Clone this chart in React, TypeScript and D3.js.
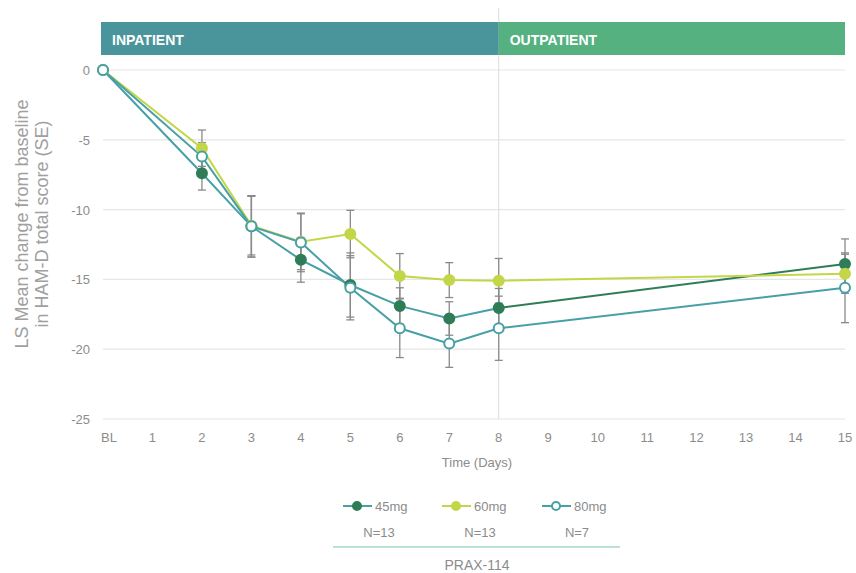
import React from "react";
import * as d3 from "d3";

const days = [0, 2, 3, 4, 5, 6, 7, 8, 15];
const xTickLabels = ["BL", "1", "2", "3", "4", "5", "6", "7", "8", "9", "10", "11", "12", "13", "14", "15"];
const yTicks = [0, -5, -10, -15, -20, -25];

const mean45 = [0, -7.4, -11.2, -13.6, -15.4, -16.9, -17.8, -17.05, -13.9];
const se45 = [0, 1.2, 2.2, 1.6, 2.3, 1.3, 1.2, 1.4, 1.8];
const mean60 = [0, -5.6, -11.15, -12.3, -11.75, -14.75, -15.05, -15.1, -14.6];
const se60 = [0, 1.3, 2.1, 2.0, 1.7, 1.6, 1.25, 1.6, 1.4];
const mean80 = [0, -6.2, -11.2, -12.35, -15.6, -18.5, -19.6, -18.5, -15.6];
const se80 = [0, 1.0, 2.2, 2.1, 2.3, 2.1, 1.7, 2.3, 2.5];

const seriesNames = ["45mg", "60mg", "80mg"];
const seriesN = ["N=13", "N=13", "N=7"];

const TEAL = "#47a0a6";
const DARKGREEN = "#2f7d58";
const LIME = "#c3d648";
const FONT = "'Liberation Sans', Arial, sans-serif";
const TXT = "#8c8c8c";

export default function App() {
  const x = d3.scaleLinear().domain([0, 15]).range([103, 845]);
  const y = d3.scaleLinear().domain([0, -25]).range([70, 419]);
  const line = d3.line<number>().x((_, i) => x(days[i])).y((v) => y(v));

  const series = [
    { name: seriesNames[0], mean: mean45, se: se45, stroke: TEAL, fill: DARKGREEN, mstroke: DARKGREEN },
    { name: seriesNames[1], mean: mean60, se: se60, stroke: LIME, fill: LIME, mstroke: LIME },
    { name: seriesNames[2], mean: mean80, se: se80, stroke: TEAL, fill: "#fff", mstroke: TEAL },
  ];

  const legendX = [357, 456, 556];
  const nX = [379, 480, 577];

  return (
    <svg width={856} height={573} style={{ display: "block", position: "absolute", left: 0, top: 0 }} fontFamily={FONT}>
      <rect width={856} height={573} fill="#fff" />
      {/* gridlines */}
      {yTicks.map((t) => (
        <line key={t} x1={103} x2={845} y1={y(t)} y2={y(t)} stroke="#e6e6e6" strokeWidth={1.2} />
      ))}
      {/* vertical day-8 line */}
      <line x1={x(8)} x2={x(8)} y1={8} y2={y(-25)} stroke="#dcdcdc" strokeWidth={1} />
      {/* banner */}
      <rect x={101} y={22} width={x(8) - 101} height={33} fill="#4a959b" />
      <rect x={x(8)} y={22} width={845 - x(8)} height={33} fill="#55b180" />
      <text x={112} y={45} fill="#fff" fontSize={14} fontWeight="bold">INPATIENT</text>
      <text x={x(8) + 11} y={45} fill="#fff" fontSize={14} fontWeight="bold">OUTPATIENT</text>
      {/* y ticks */}
      {yTicks.map((t) => (
        <text key={t} x={90} y={y(t) + 5} textAnchor="end" fontSize={13} fill={TXT}>{t}</text>
      ))}
      {/* y title */}
      <g transform={`translate(28,224) rotate(-90)`}>
        <text x={0} y={0} textAnchor="middle" fontSize={18} fill="#a0a0a0">LS Mean change from baseline</text>
        <text x={0} y={20} textAnchor="middle" fontSize={18} fill="#a0a0a0">in HAM-D total score (SE)</text>
      </g>
      {/* x ticks */}
      {xTickLabels.map((l, i) => (
        <text key={l} x={x(i) + (i === 0 ? 6 : 0)} y={442} textAnchor="middle" fontSize={13} fill={TXT}>{l}</text>
      ))}
      <text x={477} y={467} textAnchor="middle" fontSize={13} fill={TXT}>Time (Days)</text>
      {/* error bars */}
      {series.map((s) =>
        s.mean.map((m, i) =>
          i === 0 ? null : (
            <g key={s.name + i} stroke="#8a8a8a" strokeWidth={1.3}>
              <line x1={x(days[i])} x2={x(days[i])} y1={y(m + s.se[i])} y2={y(m - s.se[i])} />
              <line x1={x(days[i]) - 4} x2={x(days[i]) + 4} y1={y(m + s.se[i])} y2={y(m + s.se[i])} />
              <line x1={x(days[i]) - 4} x2={x(days[i]) + 4} y1={y(m - s.se[i])} y2={y(m - s.se[i])} />
            </g>
          )
        )
      )}
      {/* lines */}
      {series.map((s, k) => (
        <g key={s.name}>
          <path d={line(k === 0 ? s.mean.slice(0, 8) : s.mean) || ""} fill="none" stroke={s.stroke} strokeWidth={2} />
          {k === 0 && (
            <line x1={x(8)} y1={y(s.mean[7])} x2={x(15)} y2={y(s.mean[8])} stroke={DARKGREEN} strokeWidth={2} />
          )}
        </g>
      ))}
      {/* markers */}
      {series.map((s) =>
        s.mean.map((m, i) => (
          <circle key={s.name + "c" + i} cx={x(days[i])} cy={y(m)} r={5} fill={s.fill} stroke={s.mstroke} strokeWidth={2} />
        ))
      )}
      {/* legend */}
      {series.map((s, k) => (
        <g key={s.name + "leg"}>
          <line x1={legendX[k] - 14} x2={legendX[k] + 15} y1={506} y2={506} stroke={s.stroke} strokeWidth={2} />
          <circle cx={legendX[k]} cy={506} r={4} fill={s.fill} stroke={s.mstroke} strokeWidth={2} />
          <text x={legendX[k] + 18} y={511} fontSize={13} fill={TXT}>{s.name}</text>
          <text x={nX[k]} y={537} textAnchor="middle" fontSize={13} fill={TXT}>{seriesN[k]}</text>
        </g>
      ))}
      <line x1={333} x2={620} y1={547} y2={547} stroke="#a9d9c2" strokeWidth={1.5} />
      <text x={477} y={570} textAnchor="middle" fontSize={14} fill={TXT}>PRAX-114</text>
    </svg>
  );
}
